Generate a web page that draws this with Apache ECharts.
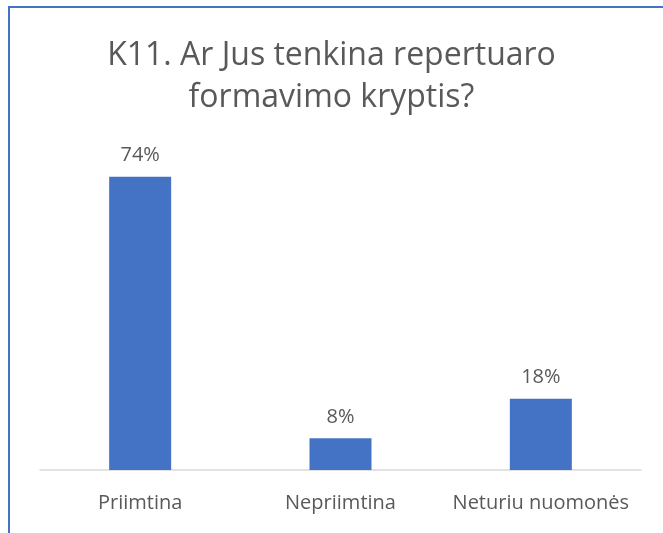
<!DOCTYPE html>
<html><head><meta charset="utf-8">
<script src="https://cdn.jsdelivr.net/npm/echarts@6/dist/echarts.min.js"></script>
<style>html,body{margin:0;padding:0;background:#fff}#c{width:663px;height:533px}</style>
</head><body><div id="c"></div>
<script>
const categories = ['Priimtina', 'Nepriimtina', 'Neturiu nuomonės'];
const values = [74, 8, 18];
const titleText = 'K11. Ar Jus tenkina repertuaro\nformavimo kryptis?';

const chart = echarts.init(document.getElementById('c'));
chart.setOption({
  animation: false,
  graphic: [{
    type: 'rect', shape: {x: 9, y: 7, width: 700, height: 600},
    style: {fill: 'none', stroke: '#4472C4', lineWidth: 2}
  }],
  title: {
    text: titleText, left: 'center', top: 30,
    textStyle: {fontFamily: 'Open Sans', fontSize: 32, fontWeight: 'normal', color: '#595959', lineHeight: 42}
  },
  grid: {left: 40, right: 22, top: 153, bottom: 63},
  xAxis: {
    type: 'category', data: categories,
    axisLine: {lineStyle: {color: '#D9D9D9', width: 1.5}},
    axisTick: {show: false},
    axisLabel: {interval: 0, hideOverlap: false, fontFamily: 'Open Sans', fontSize: 20, color: '#595959', margin: 23}
  },
  yAxis: {type: 'value', min: 0, max: 80, show: false, splitLine: {show: false}},
  series: [{
    type: 'bar', data: values, barWidth: 62,
    itemStyle: {color: '#4472C4'},
    label: {show: true, position: 'top', distance: 11, formatter: '{c}%',
      fontFamily: 'Open Sans', fontSize: 20, color: '#595959'}
  }]
});
</script></body></html>
